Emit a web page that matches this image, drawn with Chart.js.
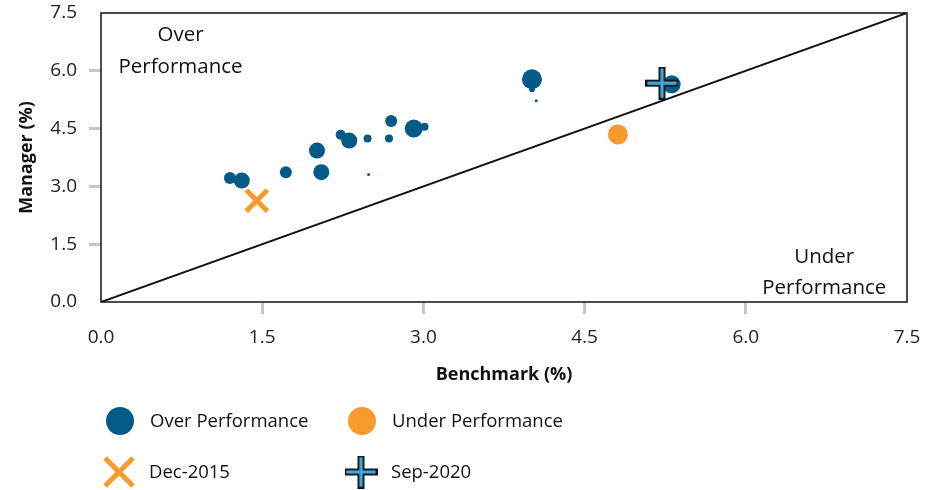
<!DOCTYPE html>
<html>
<head>
<meta charset="utf-8">
<script src="https://cdn.jsdelivr.net/npm/chart.js@4.4.1/dist/chart.umd.min.js"></script>
<style>
  html, body { margin: 0; padding: 0; background: #fff; }
  #wrap { width: 938px; height: 490px; }
</style>
</head>
<body>
<div id="wrap"><canvas id="chart" width="938" height="490"></canvas></div>
<script>
// Data
const overBenchmark = [1.20, 1.31, 1.72, 2.01, 2.05, 2.23, 2.31, 2.48, 2.49, 2.68, 2.70, 2.91, 3.01, 4.01, 4.01, 4.05, 5.31];
const overManager   = [3.22, 3.15, 3.37, 3.93, 3.37, 4.34, 4.19, 4.24, 3.31, 4.24, 4.70, 4.50, 4.55, 5.78, 5.52, 5.22, 5.65];
const overSize      = [6, 8, 6, 8, 8, 5, 8, 4, 1.5, 4, 6, 9, 4, 10, 3, 1.5, 9];

const underBenchmark = [4.81];
const underManager   = [4.35];
const underSize      = [10];

const dec2015 = { x: 1.45, y: 2.63 };
const sep2020 = { x: 5.22, y: 5.68 };

const diagonal = [0, 7.5];
const axisTicks = [0, 1.5, 3.0, 4.5, 6.0, 7.5];

const BLUE = '#045A86';
const ORANGE = '#F99B2C';
const LIGHTBLUE = '#3FA6DE';
const FONT = "'Open Sans', sans-serif";

// Plus marker used for Sep-2020
function makePlus(size) {
  const c = document.createElement('canvas');
  c.width = size; c.height = size;
  const ctx = c.getContext('2d');
  const m = size / 2, t = 3.5;
  ctx.fillStyle = '#111';
  ctx.fillRect(0, m - t, size, 2 * t);
  ctx.fillRect(m - t, 0, 2 * t, size);
  ctx.fillStyle = LIGHTBLUE;
  ctx.fillRect(1.8, m - t + 1.8, size - 3.6, 2 * t - 3.6);
  ctx.fillRect(m - t + 1.8, 1.8, 2 * t - 3.6, size - 3.6);
  return c;
}
const plusIcon = makePlus(33);

// Plot frame + corner annotations
const framePlugin = {
  id: 'frame',
  beforeDatasetsDraw(chart) {
    const { ctx, chartArea: a } = chart;
    ctx.save();
    ctx.strokeStyle = '#111';
    ctx.lineWidth = 1.5;
    ctx.strokeRect(a.left, a.top, a.right - a.left, a.bottom - a.top);
    ctx.fillStyle = '#111';
    ctx.font = '20.5px ' + FONT;
    ctx.textAlign = 'center';
    ctx.textBaseline = 'middle';
    const xs = chart.scales.x;
    ctx.fillText('Over', xs.getPixelForValue(0.74), a.top + 22);
    ctx.fillText('Performance', xs.getPixelForValue(0.74), a.top + 54);
    ctx.fillText('Under', xs.getPixelForValue(6.73), a.bottom - 45);
    ctx.fillText('Performance', xs.getPixelForValue(6.73), a.bottom - 14);
    ctx.restore();
  }
};

// Two-column legend under the axis
const legendPlugin = {
  id: 'gridLegend',
  afterDraw(chart) {
    const { ctx } = chart;
    const ds = chart.data.datasets;
    const items = [
      { label: ds[0].label, kind: 'circle', color: ds[0].backgroundColor, x: 120, y: 421 },
      { label: ds[1].label, kind: 'circle', color: ds[1].backgroundColor, x: 362, y: 421 },
      { label: ds[2].label, kind: 'x', color: ds[2].borderColor, x: 119, y: 472 },
      { label: ds[3].label, kind: 'plus', x: 361, y: 472 }
    ];
    ctx.save();
    items.forEach(it => {
      if (it.kind === 'circle') {
        ctx.fillStyle = it.color;
        ctx.beginPath();
        ctx.arc(it.x, it.y, 14, 0, Math.PI * 2);
        ctx.fill();
      } else if (it.kind === 'x') {
        ctx.strokeStyle = it.color;
        ctx.lineWidth = 5;
        ctx.beginPath();
        ctx.moveTo(it.x - 14, it.y - 14); ctx.lineTo(it.x + 14, it.y + 14);
        ctx.moveTo(it.x + 14, it.y - 14); ctx.lineTo(it.x - 14, it.y + 14);
        ctx.stroke();
      } else {
        ctx.drawImage(plusIcon, it.x - 16.5, it.y - 16.5);
      }
      ctx.fillStyle = '#111';
      ctx.font = '18.5px ' + FONT;
      ctx.textAlign = 'left';
      ctx.textBaseline = 'middle';
      ctx.fillText(it.label, it.x + 30, it.y + 1);
    });
    ctx.restore();
  }
};

const tickColor = (c) => (c.tick && (c.tick.value === 0 || c.tick.value === 7.5)) ? 'rgba(0,0,0,0)' : '#C4C7CA';

new Chart(document.getElementById('chart'), {
  type: 'bubble',
  data: {
    datasets: [
      {
        label: 'Over Performance',
        data: overBenchmark.map((x, i) => ({ x, y: overManager[i], r: overSize[i] })),
        backgroundColor: BLUE,
        borderWidth: 0,
        order: 2
      },
      {
        label: 'Under Performance',
        data: underBenchmark.map((x, i) => ({ x, y: underManager[i], r: underSize[i] })),
        backgroundColor: ORANGE,
        borderWidth: 0,
        order: 2
      },
      {
        type: 'scatter',
        label: 'Dec-2015',
        data: [dec2015],
        pointStyle: 'crossRot',
        pointRadius: 15,
        borderColor: ORANGE,
        borderWidth: 5,
        order: 1
      },
      {
        type: 'scatter',
        label: 'Sep-2020',
        data: [sep2020],
        pointStyle: plusIcon,
        order: 0
      },
      {
        type: 'line',
        label: 'diagonal',
        data: diagonal.map(v => ({ x: v, y: v })),
        borderColor: '#111',
        borderWidth: 2,
        pointRadius: 0,
        fill: false,
        order: 10
      }
    ]
  },
  options: {
    responsive: false,
    animation: false,
    layout: { autoPadding: false, padding: { left: 0, right: 31, top: 13, bottom: 96 } },
    plugins: {
      legend: { display: false },
      tooltip: { enabled: false }
    },
    scales: {
      x: {
        type: 'linear',
        min: 0, max: 7.5,
        afterBuildTicks: (s) => { s.ticks = axisTicks.map(v => ({ value: v })); },
        afterFit: (s) => { s.height = 92; s.paddingLeft = 0; s.paddingRight = 0; },
        border: { display: false },
        grid: { drawOnChartArea: false, drawTicks: true, tickLength: 12, tickWidth: 3, color: tickColor },
        ticks: { padding: 12, color: '#222', font: { family: FONT, size: 19 }, callback: (v) => Number(v).toFixed(1) },
        title: { display: true, text: 'Benchmark (%)', color: '#111', font: { family: FONT, size: 18, weight: 'bold' }, padding: { top: 10, bottom: 8 } }
      },
      y: {
        type: 'linear',
        min: 0, max: 7.5,
        afterBuildTicks: (s) => { s.ticks = axisTicks.map(v => ({ value: v })); },
        afterFit: (s) => { s.width = 101; s.paddingTop = 0; s.paddingBottom = 0; },
        border: { display: false },
        grid: { drawOnChartArea: false, drawTicks: true, tickLength: 12, tickWidth: 3, color: tickColor },
        ticks: { padding: 12, color: '#222', font: { family: FONT, size: 19 }, callback: (v) => Number(v).toFixed(1) },
        title: { display: true, text: 'Manager (%)', color: '#111', font: { family: FONT, size: 18, weight: 'bold' }, padding: { top: 16, bottom: 16 } }
      }
    }
  },
  plugins: [framePlugin, legendPlugin]
});
</script>
</body>
</html>
